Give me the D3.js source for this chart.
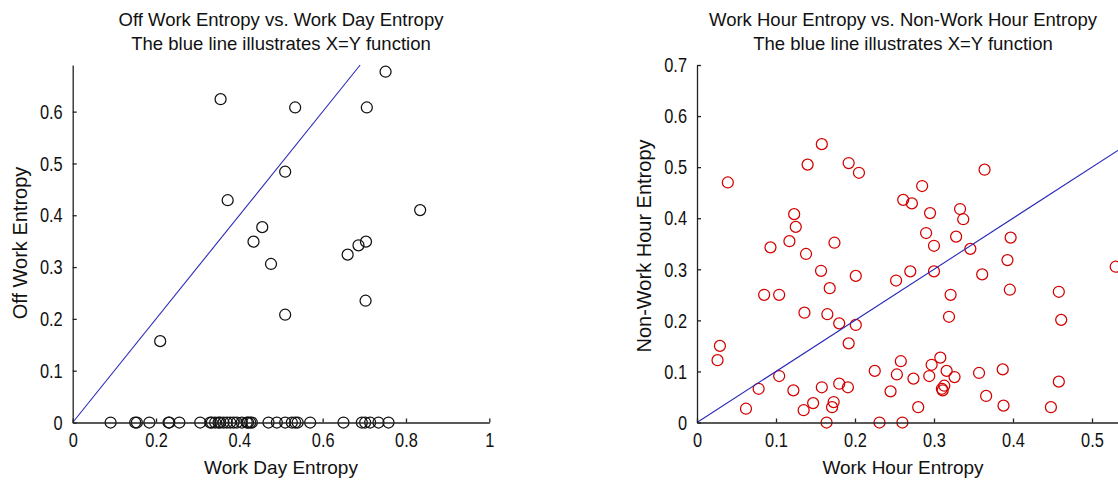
<!DOCTYPE html>
<html>
<head>
<meta charset="utf-8">
<script src="https://cdn.jsdelivr.net/npm/d3@7/dist/d3.min.js"></script>
<style>
  body { margin: 0; background: #fff; }
  svg { display: block; }
  text { font-family: "Liberation Sans", Arial, sans-serif; fill: #111; }
</style>
</head>
<body>
<svg width="1118" height="483"></svg>
<script>
// left panel: work day entropy (x) vs off work entropy (y)
var workDay = [0.751, 0.355, 0.534, 0.706, 0.510, 0.372, 0.834, 0.455, 0.434, 0.686,
  0.704, 0.660, 0.476, 0.703, 0.510, 0.210,
  0.091, 0.150, 0.154, 0.184, 0.230, 0.232, 0.256, 0.306, 0.330, 0.334, 0.342, 0.350,
  0.354, 0.362, 0.370, 0.378, 0.386, 0.394, 0.406, 0.418, 0.421, 0.426, 0.430, 0.470,
  0.490, 0.510, 0.526, 0.534, 0.540, 0.570, 0.650, 0.694, 0.702, 0.714, 0.734, 0.758];
var offWork = [0.677, 0.624, 0.608, 0.608, 0.484, 0.429, 0.410, 0.377, 0.349, 0.342,
  0.349, 0.324, 0.306, 0.235, 0.208, 0.157,
  0, 0, 0, 0, 0, 0, 0, 0, 0, 0, 0, 0,
  0, 0, 0, 0, 0, 0, 0, 0, 0, 0, 0, 0,
  0, 0, 0, 0, 0, 0, 0, 0, 0, 0, 0, 0];

// right panel: work hour entropy (x) vs non-work hour entropy (y)
var workHour = [0.039, 0.158, 0.140, 0.192, 0.205, 0.364, 0.285, 0.261, 0.272, 0.295,
  0.333, 0.337, 0.123, 0.125, 0.117, 0.093, 0.174, 0.138, 0.290, 0.328,
  0.300, 0.346, 0.397, 0.393, 0.157, 0.201, 0.270, 0.300, 0.361, 0.530,
  0.252, 0.168, 0.085, 0.104, 0.321, 0.396, 0.458, 0.136, 0.165, 0.180,
  0.201, 0.319, 0.461, 0.192, 0.029, 0.026, 0.258, 0.308, 0.297, 0.225,
  0.253, 0.316, 0.357, 0.387, 0.104, 0.274, 0.294, 0.326, 0.458, 0.078,
  0.122, 0.158, 0.180, 0.191, 0.245, 0.310, 0.313, 0.311, 0.366, 0.062,
  0.135, 0.147, 0.173, 0.171, 0.280, 0.388, 0.448, 0.164, 0.231, 0.260];
var nonWorkHour = [0.470, 0.545, 0.505, 0.508, 0.489, 0.495, 0.463, 0.436, 0.429, 0.410,
  0.418, 0.398, 0.408, 0.383, 0.355, 0.343, 0.352, 0.330, 0.371, 0.364,
  0.346, 0.340, 0.362, 0.318, 0.297, 0.287, 0.296, 0.296, 0.290, 0.305,
  0.278, 0.263, 0.250, 0.250, 0.250, 0.260, 0.256, 0.215, 0.212, 0.194,
  0.191, 0.207, 0.201, 0.155, 0.150, 0.122, 0.120, 0.127, 0.113, 0.101,
  0.094, 0.101, 0.097, 0.104, 0.091, 0.086, 0.091, 0.089, 0.080, 0.066,
  0.063, 0.069, 0.076, 0.069, 0.061, 0.066, 0.072, 0.063, 0.052, 0.027,
  0.024, 0.038, 0.040, 0.030, 0.030, 0.033, 0.030, 0, 0, 0];

var leftTitle = ["Off Work Entropy vs. Work Day Entropy", "The blue line illustrates X=Y function"];
var rightTitle = ["Work Hour Entropy vs. Non-Work Hour Entropy", "The blue line illustrates X=Y function"];
var leftXTicks = [0, 0.2, 0.4, 0.6, 0.8, 1];
var leftYTicks = [0, 0.1, 0.2, 0.3, 0.4, 0.5, 0.6];
var rightXTicks = [0, 0.1, 0.2, 0.3, 0.4, 0.5];
var rightYTicks = [0, 0.1, 0.2, 0.3, 0.4, 0.5, 0.6, 0.7];

var svg = d3.select("svg");
svg.append("rect").attr("width", 1118).attr("height", 483).attr("fill", "#fff");

var fmt = function(d) { return d === 0 ? "0" : d3.format("~g")(d); };
var squeeze = 0.78; // tick digits are narrow and tall in the original

function panel(opts) {
  var x = d3.scaleLinear().domain(opts.xDomain).range(opts.xRange);
  var y = d3.scaleLinear().domain(opts.yDomain).range([422.5, 65]);
  var g = svg.append("g");

  // circles
  g.append("g").selectAll("circle")
    .data(opts.xs.map(function(v, i) { return [v, opts.ys[i]]; }))
    .enter().append("circle")
      .attr("cx", function(d) { return x(d[0]); })
      .attr("cy", function(d) { return y(d[1]); })
      .attr("r", 5.5)
      .attr("fill", "none")
      .attr("stroke", opts.color)
      .attr("stroke-width", 1.25);

  // X=Y line
  var lim = opts.lineMax;
  g.append("path")
    .datum([[0, 0], [lim, lim]])
    .attr("d", d3.line().x(function(d) { return x(d[0]); }).y(function(d) { return y(d[1]); }))
    .attr("fill", "none")
    .attr("stroke", "#2a2ab8")
    .attr("stroke-width", 1.1);

  var xa = g.append("g").attr("transform", "translate(0,422.5)")
    .call(d3.axisBottom(x).tickValues(opts.xTicks).tickFormat(fmt)
      .tickSizeInner(-4).tickSizeOuter(0).tickPadding(10));
  var ya = g.append("g").attr("transform", "translate(" + x(0) + ",0)")
    .call(d3.axisLeft(y).tickValues(opts.yTicks).tickFormat(fmt)
      .tickSizeInner(-4).tickSizeOuter(0).tickPadding(10));
  [xa, ya].forEach(function(a) {
    a.attr("font-family", null).attr("font-size", 21);
    a.selectAll("path, line").attr("stroke", "#222").attr("stroke-width", 1.3);
    a.selectAll("text").attr("fill", "#111").attr("transform", "scale(" + squeeze + ",1)");
  });
  ya.selectAll("text").attr("x", -10 / squeeze);

  var cx = (opts.xRange[0] + opts.axisRight) / 2;
  g.append("text").attr("x", cx).attr("y", 26).attr("text-anchor", "middle")
    .attr("font-size", 18.5).text(opts.title[0]);
  g.append("text").attr("x", cx).attr("y", 50).attr("text-anchor", "middle")
    .attr("font-size", 18.5).text(opts.title[1]);
  g.append("text").attr("x", cx).attr("y", 474).attr("text-anchor", "middle")
    .attr("font-size", 19).text(opts.xLabel);
  g.append("text")
    .attr("transform", "translate(" + (x(0) - 46) + "," + opts.yLabelMid + ") rotate(-90)")
    .attr("text-anchor", "middle")
    .attr("font-size", 20).text(opts.yLabel);
}

panel({
  xs: workDay, ys: offWork, color: "#111",
  xDomain: [0, 1], xRange: [72.7, 489.3], axisRight: 489.3,
  yDomain: [0, 0.69], lineMax: 0.69, yLabelMid: 243,
  xTicks: leftXTicks, yTicks: leftYTicks,
  title: leftTitle, xLabel: "Work Day Entropy", yLabel: "Off Work Entropy"
});

panel({
  xs: workHour, ys: nonWorkHour, color: "#d40000",
  xDomain: [0, 0.6], xRange: [697, 1171], axisRight: 1109,
  yDomain: [0, 0.7], lineMax: 0.6, yLabelMid: 246,
  xTicks: rightXTicks, yTicks: rightYTicks,
  title: rightTitle, xLabel: "Work Hour Entropy", yLabel: "Non-Work Hour Entropy"
});
</script>
</body>
</html>
